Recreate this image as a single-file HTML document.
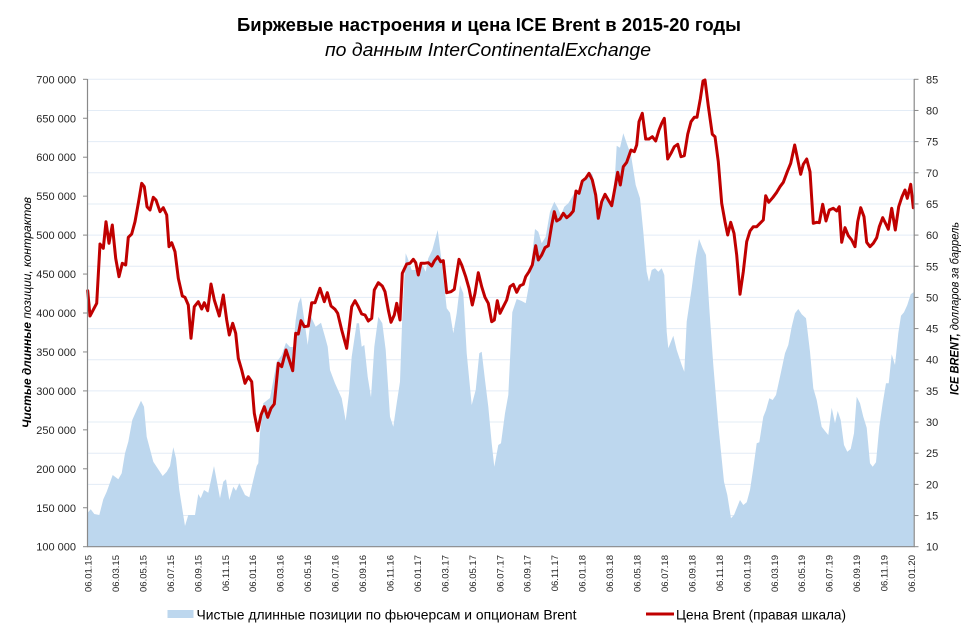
<!DOCTYPE html>
<html><head><meta charset="utf-8"><style>
html,body{margin:0;padding:0;background:#fff;}
svg{display:block;}
text{font-family:"Liberation Sans","DejaVu Sans",sans-serif;}
</style></head><body>
<svg width="976" height="636" viewBox="0 0 976 636" xmlns="http://www.w3.org/2000/svg">
<rect width="976" height="636" fill="#fff"/>
<!-- Title -->
<text x="489" y="31" text-anchor="middle" font-size="18" font-weight="bold" fill="#000" textLength="504" lengthAdjust="spacingAndGlyphs">Биржевые настроения и цена ICE Brent в 2015-20 годы</text>
<text x="488" y="56" text-anchor="middle" font-size="18" font-style="italic" fill="#000" textLength="326" lengthAdjust="spacingAndGlyphs">по данным InterContinentalExchange</text>

<!-- Gridlines -->
<g stroke="#E3ECF6" stroke-width="1">
<line x1="88" x2="914" y1="79.3" y2="79.3"/>
<line x1="88" x2="914" y1="110.46" y2="110.46"/>
<line x1="88" x2="914" y1="141.62" y2="141.62"/>
<line x1="88" x2="914" y1="172.78" y2="172.78"/>
<line x1="88" x2="914" y1="203.94" y2="203.94"/>
<line x1="88" x2="914" y1="235.1" y2="235.1"/>
<line x1="88" x2="914" y1="266.26" y2="266.26"/>
<line x1="88" x2="914" y1="297.42" y2="297.42"/>
<line x1="88" x2="914" y1="328.58" y2="328.58"/>
<line x1="88" x2="914" y1="359.74" y2="359.74"/>
<line x1="88" x2="914" y1="390.9" y2="390.9"/>
<line x1="88" x2="914" y1="422.06" y2="422.06"/>
<line x1="88" x2="914" y1="453.22" y2="453.22"/>
<line x1="88" x2="914" y1="484.38" y2="484.38"/>
<line x1="88" x2="914" y1="515.54" y2="515.54"/>
</g>

<!-- Blue area -->
<polygon fill="#BDD7EE" points="87.3,513.3 90.7,509.3 94.3,514 99.3,515 103.3,499.3 106.7,491.7 112.7,475 118.3,479.3 121.7,473.3 125,453.3 128.3,441.7 132.3,420 136.7,410 141,400.7 144,406.7 146.7,436.7 153.3,461.7 162.7,476 166.7,471.7 170,466 173.3,447.3 176,458.3 179.3,490 185,526 188.3,515 195,515 198.3,494 200.7,498.3 204,490 208.3,492.7 214,466 220,498.3 223.3,481.7 226,479.3 229.3,500 233.3,486.7 236,490.7 239.3,483.3 245,495 249.3,497.3 253.3,480 256.7,466 258.3,463.3 260,433.3 263.3,403.3 270,398 276.7,362 281.7,355 286,342.7 290,347 293.3,347 295.7,320 298.3,303.3 301,297.3 304.3,320 307.7,345 311,316.7 315.7,326.7 321,322.7 325,336.7 327.7,346.7 330,370 335,383.3 341.7,398.3 345.7,420.7 349,393.3 351.7,356.7 356.7,323.3 359,323.3 361.7,346.7 364.3,345 367.7,376.7 371,397.3 374.3,346.7 378.3,316.7 382.3,323.3 385.7,350 390,416.7 393.3,426.7 396.7,403.3 400,381.7 402.3,316.7 405.7,253.3 407.7,258.3 411.7,270 416.7,270 421.7,263.3 425.7,271.7 428.3,258.3 432.3,250 437.7,230 441.7,261.7 446.7,308.3 450,312.7 453.3,333.3 456.7,313.3 460,285 463.3,293.3 466.7,353.3 471.7,405 475.7,390 479.3,353.3 481.7,351.7 485,380 488.3,406.7 491.7,443.3 494.3,466.7 498.3,445 501,443.3 505,413.3 508.3,395 512.3,312.3 516.7,299 521.7,301 525.7,303.3 529,285 535,229 538.3,231.7 541.7,243.3 545.7,236.7 550,211.7 554.3,201.7 557.7,207.7 561,215 564.3,206.7 568.3,203.3 571.7,197.7 575,191.7 578.3,190 583.3,181 588.3,171.7 592.3,174.3 595.7,188.3 598.3,215 601.7,205 605,196.7 608.3,200 611.7,205 615,175 616.7,145.7 620,147.7 623.3,133.3 626.7,143.3 631,155 635.7,185 640,198.3 643.3,231.7 646.7,271.7 649,281.7 651.7,270 655,268.3 658.3,271.7 661.7,268.3 664.3,275 666.7,331.7 668.3,348.3 673.3,335.7 676.7,350 681.7,365 684.3,371.7 686.7,321.7 691.7,288.3 695.7,257.7 699,239 702.7,248.3 706,255 709.3,308.3 713.3,365 718.3,425 724,481.7 727.3,495 731,518.3 734,515 737.3,506.7 740,500 743.3,505 746.7,502.3 750,490 753.3,468.3 756.7,443.3 759.3,442.3 763.3,416.7 766,410 769.3,398.3 772.7,400 776,395 780,376.7 785,353.3 788.3,345 791.7,326.7 795,313.3 798.3,309 801.7,314.3 806,318.3 810,351.7 813.3,388.3 816.7,400 821.7,426.7 825,431 828.3,435 831.7,407.7 835,423.3 837.7,411 840.7,420 844,445 847.3,451.7 850.7,449 854,433.3 856.7,396.7 860,403.3 863.3,416.7 866.7,427.7 870,463.3 872.7,466.7 876,462.3 879.3,426.7 882.7,403.3 886,383.3 888.7,383.3 891.7,354.3 895,365 898.3,333.3 901,315.7 904,312.3 907.3,305 910.7,294.3 913.5,292.3 913.5,546.7 87.3,546.7"/>

<!-- Red line -->
<polyline fill="none" stroke="#C00000" stroke-width="3" stroke-linejoin="round" stroke-linecap="round" points="87.7,290.7 90,316 96.7,303.3 100,244 103.3,248.3 106,221.7 109,243.3 112.3,225 115.7,258.3 119,276.7 122.3,263.3 125.7,265 128.3,237.3 131.7,234 135,221.7 138.3,203.3 141.7,183.3 144.3,186.7 147,206.7 150,210 153.3,197.3 156,200 160,211.7 163.3,207.7 166.7,215 169,246.7 171.7,242.7 175,251.7 178.3,278.3 182.3,296 185,297.3 188.3,305 191,338.3 194.3,306.7 198.3,301.7 201.7,309 204.3,302.7 207.7,310.7 211,284 214.3,300 219.3,316 223.3,295 226.7,320 229.3,335 232.7,323.3 235.7,333.3 238.3,358.3 241.7,370 245,383.3 248.3,376.7 251.7,381.7 254.3,413.3 257.7,430.7 261,415 264.3,406.7 267.7,417.3 271,408.3 274.3,404 278.3,363.3 281.7,366.7 286,350 289.3,360 292.7,370.7 295.7,333.3 298.3,334 301,320.7 304.3,326.7 308.3,326 311.7,302.7 315,302.7 320,288.3 324.3,301.7 327.3,292.7 331,306 335,309.3 337.7,313.3 341.7,330 346.7,348.3 351.7,306.7 355,300.7 358.3,306.7 361.7,314 365,315 368.3,321 371.7,318.3 374.3,290 378.3,282.7 382.3,286 385,291.7 388.3,310 391,322.3 394.3,315 396.7,303.3 400,320 402.3,273.3 406.7,264 410,263.3 413.3,259.3 415.7,262.7 418.3,275 421,263.3 424.3,263.3 428.3,262.7 431.7,266 434.3,261 437.7,256.7 440.7,261.7 443.3,260.7 446.7,292.7 451,291.7 454.3,289.3 459,259.3 461.7,265 465.7,276.7 469,288.3 472.3,305 475,293.3 478.3,272.7 481.7,286.7 485,297.3 488.3,303.3 491.7,321.7 494.3,320 497.3,300.7 500,313.3 503.3,306.7 506.7,300 510,286.7 513.3,284.3 516.7,292.3 520,285.7 523.3,284.3 525.7,276.7 529,271.7 532.3,265 535.7,245.7 538.3,260 541.7,255 545,247.7 548.3,245.7 551.7,225 554.3,211.7 556.7,221 560,219 563.3,213.3 566.7,217.7 570,215 573.3,211 576,191 579,193.3 582.3,181 585.7,178.3 589,173.3 592.3,180 595.7,195 598.3,218.3 601.7,201.7 605,194.3 608.3,200 611.7,205.7 615,187.7 617.7,172.3 620.3,185 623.3,166.7 626.7,162.3 631,150 634.3,151.7 636.7,145 639,121.7 642.3,113.3 645.7,139 649,139 652.3,136.7 655.7,141 659,130 661.7,123.3 664.3,118.3 667.7,159 671,153.3 674.3,146.7 677.7,144.3 681,156.7 684.3,155.7 687.7,134.3 691,121.7 694.3,117.3 697,117.3 700.3,99 703,81 705,80 708.3,106 712.3,134.3 715,136.7 718.3,161.7 721.7,203.3 725,221.7 727.7,235 730.7,222.3 734,233.3 736.7,255 740,294.3 743.3,271.7 746.7,241.7 750,231 753.3,226.7 756.7,226.7 760,223.3 763.3,220 765.7,195.7 768.7,202.3 772.7,197.7 776.7,192.3 780,186.7 783.3,182.3 787.3,171.7 790.7,163.3 794.7,145 797.3,157.7 800.7,174.3 803.3,164.3 806.7,159 810,171.7 813.3,223.3 816.7,222.3 819.3,222.7 822.7,204.3 826,221 829.3,210 833.3,208.3 836.7,211 839.3,206.7 841.7,242.3 845,227.7 848.3,235.7 851.7,240 855,246.7 857.7,221.7 860.7,207.7 864,216.7 866.7,242.3 870,246.7 873.3,243.3 876.7,237.7 879.3,226.7 882.7,217.7 886,224.3 888.3,229.3 891.7,208.3 895.3,230 898.7,206.7 902,196.7 905,190 907.3,198.3 910.7,184.3 913.3,207.7"/>

<!-- Axes -->
<g stroke="#898989" stroke-width="1.2" fill="none">
<line x1="87.5" y1="79" x2="87.5" y2="547"/>
<line x1="914.2" y1="79" x2="914.2" y2="547"/>
<line x1="87" y1="546.7" x2="914.5" y2="546.7"/>
</g>
<g stroke="#898989" stroke-width="1">
<line x1="83" x2="87.5" y1="79.3" y2="79.3"/>
<line x1="83" x2="87.5" y1="118.25" y2="118.25"/>
<line x1="83" x2="87.5" y1="157.2" y2="157.2"/>
<line x1="83" x2="87.5" y1="196.15" y2="196.15"/>
<line x1="83" x2="87.5" y1="235.1" y2="235.1"/>
<line x1="83" x2="87.5" y1="274.05" y2="274.05"/>
<line x1="83" x2="87.5" y1="313" y2="313"/>
<line x1="83" x2="87.5" y1="351.95" y2="351.95"/>
<line x1="83" x2="87.5" y1="390.9" y2="390.9"/>
<line x1="83" x2="87.5" y1="429.85" y2="429.85"/>
<line x1="83" x2="87.5" y1="468.8" y2="468.8"/>
<line x1="83" x2="87.5" y1="507.75" y2="507.75"/>
<line x1="83" x2="87.5" y1="546.7" y2="546.7"/>
</g>
<g stroke="#898989" stroke-width="1">
<line x1="914" x2="918.5" y1="79.3" y2="79.3"/>
<line x1="914" x2="918.5" y1="110.46" y2="110.46"/>
<line x1="914" x2="918.5" y1="141.62" y2="141.62"/>
<line x1="914" x2="918.5" y1="172.78" y2="172.78"/>
<line x1="914" x2="918.5" y1="203.94" y2="203.94"/>
<line x1="914" x2="918.5" y1="235.1" y2="235.1"/>
<line x1="914" x2="918.5" y1="266.26" y2="266.26"/>
<line x1="914" x2="918.5" y1="297.42" y2="297.42"/>
<line x1="914" x2="918.5" y1="328.58" y2="328.58"/>
<line x1="914" x2="918.5" y1="359.74" y2="359.74"/>
<line x1="914" x2="918.5" y1="390.9" y2="390.9"/>
<line x1="914" x2="918.5" y1="422.06" y2="422.06"/>
<line x1="914" x2="918.5" y1="453.22" y2="453.22"/>
<line x1="914" x2="918.5" y1="484.38" y2="484.38"/>
<line x1="914" x2="918.5" y1="515.54" y2="515.54"/>
<line x1="914" x2="918.5" y1="546.7" y2="546.7"/>
</g>

<!-- Left tick labels -->
<g font-size="11" fill="#262626" text-anchor="end">
<text x="76" y="83.3">700 000</text>
<text x="76" y="122.25">650 000</text>
<text x="76" y="161.2">600 000</text>
<text x="76" y="200.15">550 000</text>
<text x="76" y="239.1">500 000</text>
<text x="76" y="278.05">450 000</text>
<text x="76" y="317">400 000</text>
<text x="76" y="355.95">350 000</text>
<text x="76" y="394.9">300 000</text>
<text x="76" y="433.85">250 000</text>
<text x="76" y="472.8">200 000</text>
<text x="76" y="511.75">150 000</text>
<text x="76" y="550.7">100 000</text>
</g>

<!-- Right tick labels -->
<g font-size="11" fill="#262626" text-anchor="start">
<text x="926" y="83.3">85</text>
<text x="926" y="114.46">80</text>
<text x="926" y="145.62">75</text>
<text x="926" y="176.78">70</text>
<text x="926" y="207.94">65</text>
<text x="926" y="239.1">60</text>
<text x="926" y="270.26">55</text>
<text x="926" y="301.42">50</text>
<text x="926" y="332.58">45</text>
<text x="926" y="363.74">40</text>
<text x="926" y="394.9">35</text>
<text x="926" y="426.06">30</text>
<text x="926" y="457.22">25</text>
<text x="926" y="488.38">20</text>
<text x="926" y="519.54">15</text>
<text x="926" y="550.7">10</text>
</g>

<!-- X labels -->
<g font-size="9.5" fill="#262626" text-anchor="end">
<text transform="translate(91.5,555) rotate(-90)">06.01.15</text>
<text transform="translate(118.95,555) rotate(-90)">06.03.15</text>
<text transform="translate(146.4,555) rotate(-90)">06.05.15</text>
<text transform="translate(173.85,555) rotate(-90)">06.07.15</text>
<text transform="translate(201.3,555) rotate(-90)">06.09.15</text>
<text transform="translate(228.75,555) rotate(-90)">06.11.15</text>
<text transform="translate(256.2,555) rotate(-90)">06.01.16</text>
<text transform="translate(283.65,555) rotate(-90)">06.03.16</text>
<text transform="translate(311.1,555) rotate(-90)">06.05.16</text>
<text transform="translate(338.55,555) rotate(-90)">06.07.16</text>
<text transform="translate(366,555) rotate(-90)">06.09.16</text>
<text transform="translate(393.45,555) rotate(-90)">06.11.16</text>
<text transform="translate(420.9,555) rotate(-90)">06.01.17</text>
<text transform="translate(448.35,555) rotate(-90)">06.03.17</text>
<text transform="translate(475.8,555) rotate(-90)">06.05.17</text>
<text transform="translate(503.25,555) rotate(-90)">06.07.17</text>
<text transform="translate(530.7,555) rotate(-90)">06.09.17</text>
<text transform="translate(558.15,555) rotate(-90)">06.11.17</text>
<text transform="translate(585.6,555) rotate(-90)">06.01.18</text>
<text transform="translate(613.05,555) rotate(-90)">06.03.18</text>
<text transform="translate(640.5,555) rotate(-90)">06.05.18</text>
<text transform="translate(667.95,555) rotate(-90)">06.07.18</text>
<text transform="translate(695.4,555) rotate(-90)">06.09.18</text>
<text transform="translate(722.85,555) rotate(-90)">06.11.18</text>
<text transform="translate(750.3,555) rotate(-90)">06.01.19</text>
<text transform="translate(777.75,555) rotate(-90)">06.03.19</text>
<text transform="translate(805.2,555) rotate(-90)">06.05.19</text>
<text transform="translate(832.65,555) rotate(-90)">06.07.19</text>
<text transform="translate(860.1,555) rotate(-90)">06.09.19</text>
<text transform="translate(887.55,555) rotate(-90)">06.11.19</text>
<text transform="translate(915,555) rotate(-90)">06.01.20</text>
</g>

<!-- Axis titles -->
<text transform="translate(31,312.5) rotate(-90)" text-anchor="middle" font-size="12" font-style="italic" fill="#000" textLength="231" lengthAdjust="spacingAndGlyphs"><tspan font-weight="bold">Чистые длинные</tspan> позиции, контрактов</text>
<text transform="translate(958.5,308.5) rotate(-90)" text-anchor="middle" font-size="12" font-style="italic" fill="#000" textLength="173" lengthAdjust="spacingAndGlyphs"><tspan font-weight="bold">ICE BRENT,</tspan> долларов за баррель</text>

<!-- Legend -->
<rect x="167.5" y="610" width="26" height="8" fill="#BDD7EE"/>
<text x="196.5" y="619.5" font-size="14" fill="#000" textLength="380" lengthAdjust="spacingAndGlyphs">Чистые длинные позиции по фьючерсам и опционам Brent</text>
<line x1="646" y1="614" x2="674" y2="614" stroke="#C00000" stroke-width="3"/>
<text x="676" y="619.5" font-size="14" fill="#000" textLength="170" lengthAdjust="spacingAndGlyphs">Цена Brent (правая шкала)</text>
</svg>
</body></html>
